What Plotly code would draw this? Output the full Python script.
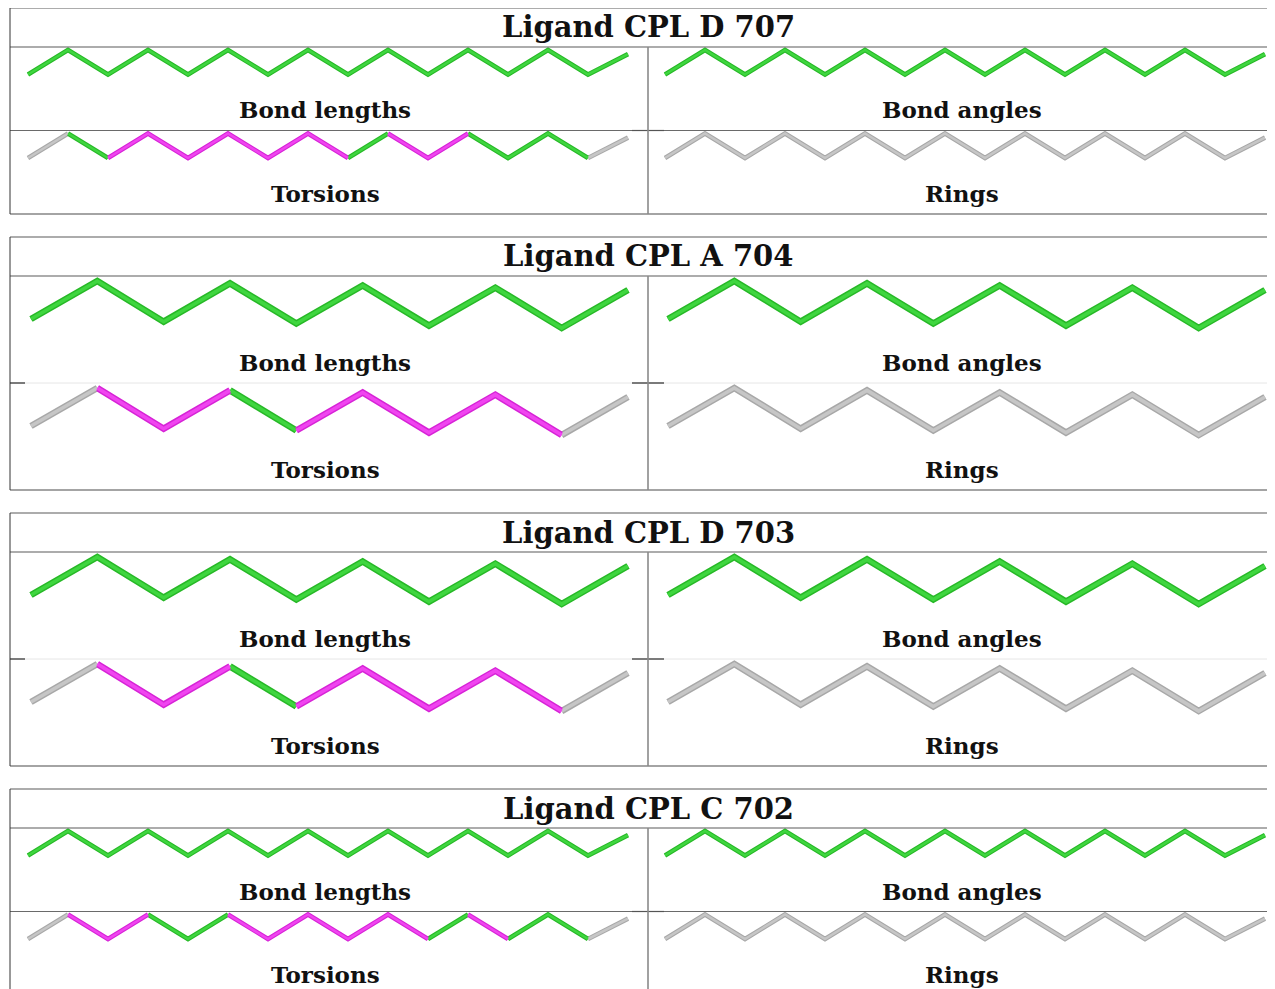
import plotly.graph_objects as go

W, H = 1275, 989          # reference picture size
OFF = 8                   # page body margin of the html page
FW, FH = W - OFF, H - OFF  # figure size so that the figure fills the window

# ---------------- data ----------------
ligand_titles = ["Ligand CPL D 707", "Ligand CPL A 704", "Ligand CPL D 703", "Ligand CPL C 702"]
panel_labels = ["Bond lengths", "Bond angles", "Torsions", "Rings"]

# atom heights of the 2D chain depictions (in units of the zigzag amplitude)
chain16_y = [0, 1, 0, 1, 0, 1, 0, 1, 0, 1, 0, 1, 0, 1, 0, 0.83]
chain10_y = [0, 0.927, -0.066, 0.87, -0.11, 0.817, -0.163, 0.763, -0.22, 0.707]
ligand_chain = ["chain16", "chain10", "chain10", "chain16"]

# per-bond status: G = no outlier (green), M = outlier (magenta), X = not assessed (gray)
bond_lengths_status = ["GGGGGGGGGGGGGGG", "GGGGGGGGG", "GGGGGGGGG", "GGGGGGGGGGGGGGG"]
bond_angles_status = ["GGGGGGGGGGGGGGG", "GGGGGGGGG", "GGGGGGGGG", "GGGGGGGGGGGGGGG"]
torsions_status = ["XGMMMMMMGMMGGGX", "XMMGMMMMX", "XMMGMMMMX", "XMMGGMMMMMGMGGX"]
rings_status = ["XXXXXXXXXXXXXXX", "XXXXXXXXX", "XXXXXXXXX", "XXXXXXXXXXXXXXX"]

# ---------------- style / layout (reference pixels) ----------------
box_tops = [8, 237, 513, 789]
title_h = 39
row_h = [83.5, 107, 107, 83.5]
box_left, box_right, divider_x = 10, 1280, 648
label_x = [325, 962]

chain_geom = {
    # x of first/last atom (left column), baseline offset from row top, px per unit, line width
    "chain16": dict(x0=28, x1=628, base=27.5, unit=24.5, w=4.6),
    "chain10": dict(x0=31, x1=628, base=43.0, unit=41.0, w=6.6),
}
col_offset = 637

colors_outer = {"G": "#27b827", "M": "#d624d6", "X": "#a8a8a8"}
colors_inner = {"G": "#3fd63f", "M": "#f044f0", "X": "#c6c6c6"}

line_col = "#5a5a5a"
font_family = "DejaVu Serif"


def fx(p):
    return (p - OFF) / FW


def fy(p):
    return 1 - (p - OFF) / FH


fig = go.Figure()
shapes = []
annotations = []

status_sets = [bond_lengths_status, bond_angles_status, torsions_status, rings_status]


def hline(yp, xa, xb, color=line_col, width=1.2):
    shapes.append(dict(type="line", xref="paper", yref="paper",
                       x0=fx(xa), x1=fx(xb), y0=fy(yp), y1=fy(yp),
                       line=dict(color=color, width=width)))


def vline(xp, ya, yb, color=line_col, width=1.2):
    shapes.append(dict(type="line", xref="paper", yref="paper",
                       x0=fx(xp), x1=fx(xp), y0=fy(ya), y1=fy(yb),
                       line=dict(color=color, width=width)))


axis_id = 0
for b, title in enumerate(ligand_titles):
    top = box_tops[b]
    rows_top = [top + title_h, top + title_h + row_h[b]]
    bottom = top + title_h + 2 * row_h[b]
    chain_y = chain16_y if ligand_chain[b] == "chain16" else chain10_y
    g = chain_geom[ligand_chain[b]]
    n = len(chain_y)
    step = (g["x1"] - g["x0"]) / (n - 1)
    pad = 0.45

    for p in range(4):
        r, c = divmod(p, 2)
        axis_id += 1
        sfx = "" if axis_id == 1 else str(axis_id)
        x0 = g["x0"] + c * col_offset
        lo_px = max(x0 - pad * step, OFF)
        hi_px = min(x0 + (n - 1 + pad) * step, W)
        dom_x = [fx(lo_px), fx(hi_px)]
        rng_x = [(lo_px - x0) / step, (hi_px - x0) / step]
        base = rows_top[r] + g["base"]
        ylo, yhi = -1.0, 2.0
        bot_px = min(base - ylo * g["unit"], H)
        top_px = base - yhi * g["unit"]
        dom_y = [fy(bot_px), fy(top_px)]
        rng_y = [(base - bot_px) / g["unit"], yhi]
        fig.update_layout({
            f"xaxis{sfx}": dict(domain=dom_x, range=rng_x, visible=False,
                                fixedrange=True, anchor=f"y{sfx}"),
            f"yaxis{sfx}": dict(domain=dom_y, range=rng_y, visible=False,
                                fixedrange=True, anchor=f"x{sfx}"),
        })

        status = status_sets[p][b]
        # group contiguous runs of the same status
        runs = []
        i = 0
        while i < len(status):
            j = i
            while j + 1 < len(status) and status[j + 1] == status[i]:
                j += 1
            runs.append((status[i], i, j))
            i = j + 1
        for cmap, wid in ((colors_outer, g["w"]), (colors_inner, g["w"] * 0.55)):
            for code in ["X", "G", "M"]:
                xs, ys = [], []
                for (s, i0, j0) in runs:
                    if s != code:
                        continue
                    if xs:
                        xs.append(None)
                        ys.append(None)
                    xs.extend(range(i0, j0 + 2))
                    ys.extend(chain_y[i0:j0 + 2])
                if not xs:
                    continue
                fig.add_trace(go.Scatter(
                    x=xs, y=ys, mode="lines",
                    line=dict(color=cmap[code], width=wid),
                    xaxis=f"x{sfx}", yaxis=f"y{sfx}", hoverinfo="skip", showlegend=False,
                ))

        # panel label
        annotations.append(dict(
            x=fx(label_x[c]), y=fy(rows_top[r] + row_h[b] - 20.5), xref="paper", yref="paper",
            text=f"<b>{panel_labels[p]}</b>", showarrow=False, xanchor="center", yanchor="middle",
            font=dict(family=font_family, size=23, color="#111111"),
        ))

    # title
    annotations.append(dict(
        x=fx(648), y=fy(top + title_h / 2), xref="paper", yref="paper",
        text=f"<b>{title}</b>", showarrow=False, xanchor="center", yanchor="middle",
        font=dict(family=font_family, size=29, color="#111111"),
    ))

    hline(top, box_left, box_right)
    hline(rows_top[0], box_left, box_right)
    if ligand_chain[b] == "chain10":
        hline(rows_top[1], 25, 632, color="#e6e6e6", width=1)
        hline(rows_top[1], 664, 1272, color="#e6e6e6", width=1)
        hline(rows_top[1], box_left, 25, color="#222222", width=1.2)
        hline(rows_top[1], 632, 664, color="#222222", width=1.2)
    else:
        hline(rows_top[1], box_left, box_right, color="#6a6a6a")
        hline(rows_top[1], 632, 664, color="#555555")
    hline(bottom, box_left, box_right, color="#4a4a4a")
    vline(box_left, top, bottom, color="#333333", width=1)
    vline(divider_x, rows_top[0], bottom, color="#8a8a8a", width=1.6)

fig.update_layout(
    width=FW, height=FH,
    margin=dict(l=0, r=0, t=0, b=0),
    paper_bgcolor="white", plot_bgcolor="white",
    showlegend=False,
    shapes=shapes,
    annotations=annotations,
)

fig.write_html("out.html")
